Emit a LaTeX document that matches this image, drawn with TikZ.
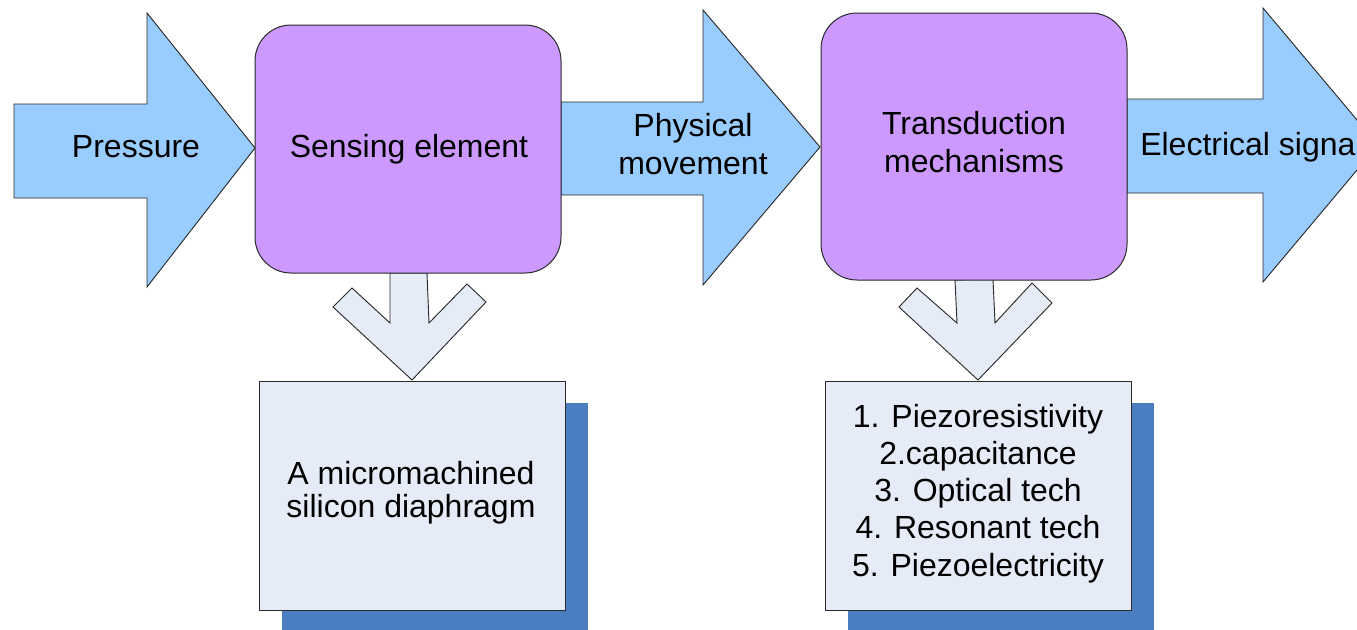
\documentclass[tikz,border=0pt]{standalone}
\usepackage{fontspec}
\setmainfont{Liberation Sans}
\definecolor{arrowblue}{HTML}{99CCFF}
\definecolor{boxpurple}{HTML}{CC99FF}
\definecolor{notefill}{HTML}{E6ECF7}
\definecolor{shadowblue}{HTML}{4A7EC1}
\definecolor{edgegray}{HTML}{2A2A2A}
\begin{document}
\begin{tikzpicture}[x=0.75pt,y=-0.75pt,
  blockarrow/.style={fill=arrowblue, draw=edgegray, line width=0.7pt, line join=miter},
  downarrow/.style={fill=notefill, draw=edgegray, line width=0.7pt, line join=miter},
  stagebox/.style={draw=edgegray, fill=boxpurple, rounded corners=27pt, line width=0.75pt, minimum width=229.5pt, inner sep=0pt},
  notebox/.style={draw=edgegray, fill=notefill, line width=0.75pt, minimum width=229.5pt, minimum height=171.75pt, inner sep=0pt},
  shadowbox/.style={fill=shadowblue, minimum width=229.5pt, minimum height=171.75pt, inner sep=0pt},
  txt/.style={font=\fontsize{24pt}{28.5pt}\selectfont, inner sep=0pt, align=center}]
\useasboundingbox (0,0) rectangle (1357,629);
\clip (0,0) rectangle (1357,629);
% block arrows
\draw[blockarrow] (14,104) -- (147,104) -- (147,13) -- (255,148) -- (147,287) -- (147,198) -- (14,198) -- cycle;
\draw[blockarrow] (561,102) -- (703,102) -- (703,10) -- (820,147) -- (703,285) -- (703,195) -- (561,195) -- cycle;
\draw[blockarrow] (1127,99) -- (1263,99) -- (1263,8) -- (1378,145) -- (1263,282) -- (1263,193) -- (1127,193) -- cycle;
% down arrows
\draw[downarrow] (390,273) -- (390,323) -- (352,288) -- (333,307) -- (412,380) -- (486,302) -- (467,284) -- (429,323) -- (427,273) -- cycle;
\draw[downarrow] (955,280) -- (957,323) -- (917,288) -- (899,307) -- (978,380) -- (1052,303) -- (1032,283) -- (995,323) -- (993,279) -- cycle;
% shadows and note boxes
\node[shadowbox] (diashadow) at (435,517.5) {};
\node[shadowbox] (listshadow) at (1001,517.5) {};
\node[notebox] (diabox) at (412,495.5) {};
\node[notebox] (listbox) at (978,495.5) {};
% stages
\node[stagebox, minimum height=186pt] (sense) at (408,149) {};
\node[stagebox, minimum height=200.25pt] (trans) at (974,146.5) {};
% texts
\node[txt, anchor=base] (pressureText) at (136,157) {Pressure};
\node[txt, anchor=base] (senseText) at (409,157) {Sensing element};
\node[txt] (moveText) at (693,144.3) {Physical\\movement};
\node[txt] (transText) at (974,142.3) {Transduction\\mechanisms};
\node[txt, anchor=base west] (elecText) at (1140,155) {Electrical signal};
\node[txt, font=\fontsize{24pt}{24.75pt}\selectfont] (diaText) at (411,493.2) {A micromachined\\silicon diaphragm};
\node[txt, font=\fontsize{24pt}{27.9pt}\selectfont] (listText) at (978,493.4) {1. Piezoresistivity\\2.capacitance\\3. Optical tech\\4. Resonant tech\\5. Piezoelectricity};
\end{tikzpicture}
\end{document}
